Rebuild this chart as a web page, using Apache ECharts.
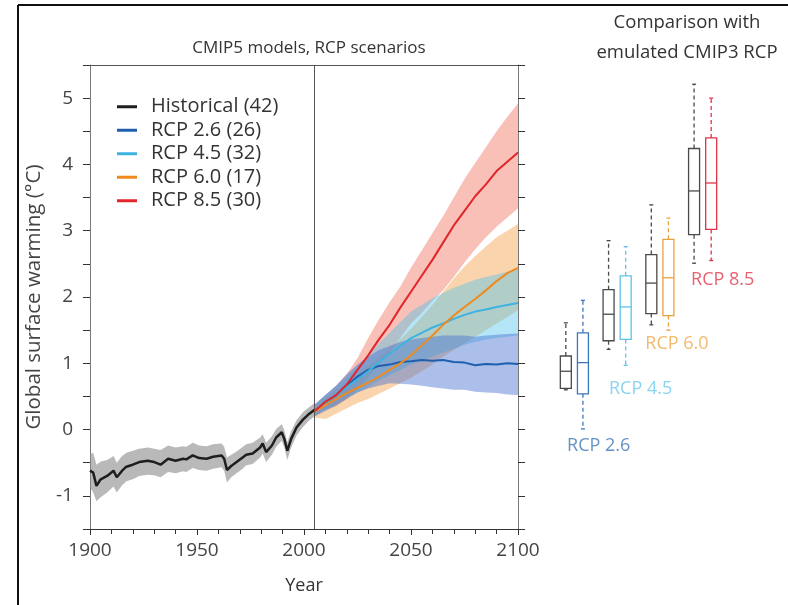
<!DOCTYPE html>
<html>
<head>
<meta charset="utf-8">
<script src="https://cdn.jsdelivr.net/npm/echarts@6/dist/echarts.min.js"></script>
<style>html,body{margin:0;padding:0;background:#fff}#c{width:788px;height:605px}</style>
</head>
<body>
<div id="c"></div>
<script>
// ---------- DATA ----------
const seriesNames = ['Historical (42)', 'RCP 2.6 (26)', 'RCP 4.5 (32)', 'RCP 6.0 (17)', 'RCP 8.5 (30)'];

const histYears = [1900, 1901.5, 1903, 1905, 1908, 1911, 1912.5, 1915, 1917, 1920, 1923, 1927, 1930, 1933, 1936.5, 1940, 1943.5, 1945, 1948, 1951, 1954.5, 1957.5, 1961.5, 1962.7, 1964, 1966, 1968.5, 1971, 1973, 1976, 1979.5, 1980.7, 1982.3, 1985, 1987, 1989.6, 1990.8, 1992.2, 1994, 1996.5, 1999.5, 2002.5, 2005];
const histMean  = [-0.62, -0.65, -0.85, -0.75, -0.70, -0.62, -0.72, -0.62, -0.56, -0.53, -0.49, -0.47, -0.49, -0.53, -0.44, -0.47, -0.44, -0.45, -0.39, -0.43, -0.44, -0.41, -0.39, -0.44, -0.61, -0.55, -0.49, -0.43, -0.38, -0.36, -0.27, -0.21, -0.34, -0.24, -0.12, -0.04, -0.14, -0.32, -0.14, 0.03, 0.15, 0.24, 0.30];
const histLow   = [-0.87, -0.95, -1.08, -1.02, -0.95, -0.86, -0.95, -0.84, -0.78, -0.75, -0.70, -0.68, -0.69, -0.72, -0.64, -0.66, -0.63, -0.64, -0.58, -0.61, -0.62, -0.59, -0.57, -0.62, -0.80, -0.72, -0.66, -0.60, -0.54, -0.52, -0.42, -0.36, -0.49, -0.38, -0.26, -0.17, -0.27, -0.46, -0.27, -0.09, 0.04, 0.14, 0.20];
const histHigh  = [-0.37, -0.35, -0.53, -0.48, -0.46, -0.40, -0.50, -0.40, -0.35, -0.32, -0.29, -0.27, -0.29, -0.31, -0.24, -0.27, -0.25, -0.26, -0.20, -0.24, -0.25, -0.22, -0.21, -0.26, -0.42, -0.38, -0.33, -0.27, -0.22, -0.20, -0.12, -0.07, -0.20, -0.10, 0.01, 0.08, -0.01, -0.19, -0.02, 0.14, 0.26, 0.34, 0.40];

const projYears = [2005, 2010, 2015, 2020, 2025, 2030, 2035, 2040, 2045, 2050, 2055, 2060, 2065, 2070, 2075, 2080, 2085, 2090, 2095, 2100];

const rcp26Mean = [0.28, 0.40, 0.52, 0.66, 0.80, 0.90, 0.96, 0.98, 1.02, 1.03, 1.05, 1.04, 1.05, 1.02, 1.01, 0.97, 0.99, 0.98, 1.00, 0.99];
const rcp26Low  = [0.20, 0.28, 0.36, 0.46, 0.56, 0.62, 0.66, 0.70, 0.69, 0.68, 0.66, 0.64, 0.62, 0.60, 0.60, 0.57, 0.56, 0.55, 0.53, 0.52];
const rcp26High = [0.38, 0.52, 0.66, 0.84, 0.98, 1.10, 1.20, 1.26, 1.32, 1.36, 1.38, 1.40, 1.42, 1.42, 1.42, 1.40, 1.42, 1.43, 1.44, 1.45];

const rcp45Mean = [0.28, 0.40, 0.52, 0.64, 0.76, 0.88, 1.02, 1.14, 1.26, 1.38, 1.46, 1.54, 1.60, 1.67, 1.73, 1.78, 1.81, 1.85, 1.88, 1.91];
const rcp45Low  = [0.20, 0.30, 0.38, 0.48, 0.56, 0.64, 0.74, 0.82, 0.90, 0.98, 1.04, 1.10, 1.16, 1.22, 1.28, 1.32, 1.36, 1.38, 1.40, 1.42];
const rcp45High = [0.38, 0.52, 0.66, 0.80, 0.96, 1.12, 1.30, 1.46, 1.62, 1.78, 1.88, 1.98, 2.06, 2.14, 2.20, 2.26, 2.30, 2.34, 2.38, 2.42];

const rcp60Mean = [0.27, 0.37, 0.46, 0.55, 0.63, 0.71, 0.80, 0.90, 1.00, 1.12, 1.27, 1.42, 1.58, 1.72, 1.85, 1.97, 2.10, 2.24, 2.36, 2.44];
const rcp60Low  = [0.18, 0.16, 0.24, 0.32, 0.40, 0.46, 0.54, 0.62, 0.70, 0.78, 0.88, 0.98, 1.10, 1.20, 1.30, 1.40, 1.50, 1.60, 1.70, 1.80];
const rcp60High = [0.36, 0.48, 0.60, 0.72, 0.84, 0.96, 1.08, 1.22, 1.36, 1.52, 1.70, 1.88, 2.08, 2.28, 2.46, 2.62, 2.76, 2.90, 3.00, 3.10];

const rcp85Mean = [0.28, 0.42, 0.52, 0.68, 0.90, 1.12, 1.36, 1.58, 1.84, 2.08, 2.32, 2.56, 2.82, 3.08, 3.30, 3.52, 3.70, 3.90, 4.04, 4.18];
const rcp85Low  = [0.20, 0.30, 0.36, 0.46, 0.62, 0.78, 0.98, 1.16, 1.38, 1.60, 1.76, 1.94, 2.10, 2.30, 2.52, 2.72, 2.90, 3.06, 3.20, 3.34];
const rcp85High = [0.38, 0.52, 0.66, 0.84, 1.08, 1.38, 1.66, 1.92, 2.16, 2.44, 2.70, 2.96, 3.22, 3.50, 3.78, 4.02, 4.26, 4.50, 4.72, 4.92];

// Box plots: [min, q1, median, q3, max]
const boxScenarios = ['RCP 2.6', 'RCP 4.5', 'RCP 6.0', 'RCP 8.5'];
const cmip3Boxes = [
  [0.60, 0.62, 0.88, 1.11, 1.61],
  [1.21, 1.34, 1.74, 2.11, 2.85],
  [1.58, 1.75, 2.21, 2.64, 3.39],
  [2.51, 2.94, 3.60, 4.24, 5.21]
];
const cmip5Boxes = [
  [0.01, 0.54, 1.01, 1.46, 1.95],
  [0.97, 1.36, 1.85, 2.32, 2.76],
  [1.50, 1.72, 2.29, 2.87, 3.19],
  [2.55, 3.02, 3.72, 4.40, 5.00]
];
// label anchors (slot, value) for the scenario names in the right panel
const boxLabelSlot = [0.57, 1.55, 2.40, 3.47];
const boxLabelValue = [-0.24, 0.62, 1.30, 2.26];

const xTicks = [1900, 1950, 2000, 2050, 2100];

// ---------- STYLE ----------
const FONT = 'Open Sans';
const lineColors = ['#1e1e1e', '#1f5fb0', '#3db3e3', '#ef8a1f', '#e2252b'];
const bandColors = ['#8a8a8a', '#4470d0', '#4cc3ec', '#f5a04a', '#ee6a50'];
const bandOpacity = [0.6, 0.45, 0.42, 0.45, 0.42];
const boxColors = ['#3c78b8', '#5cc3e8', '#eba040', '#e03348'];
const boxLabelColors = ['#3d77b5', '#6ec8ea', '#f0a848', '#e0384a'];
const cmip3Color = '#4a4a4a';

const pairs = (xs, ys) => xs.map((x, i) => [x, ys[i]]);

function band(xs, lo, hi, color, opacity) {
  return {
    type: 'custom', silent: true, z: 1,
    data: xs.map((x, i) => [x, lo[i], hi[i]]),
    encode: { x: 0, y: [1, 2] },
    renderItem: function (params, api) {
      if (params.dataIndex !== 0) return null;
      const pts = [];
      for (let i = 0; i < xs.length; i++) pts.push(api.coord([xs[i], hi[i]]));
      for (let i = xs.length - 1; i >= 0; i--) pts.push(api.coord([xs[i], lo[i]]));
      return { type: 'polygon', shape: { points: pts }, style: { fill: color, opacity: opacity } };
    }
  };
}

function meanLine(name, xs, ys, color, width) {
  return { type: 'line', name: name, data: pairs(xs, ys), symbol: 'none', z: 5,
    lineStyle: { color: color, width: width }, itemStyle: { color: color } };
}

function renderBox(colorFn) {
  return function (params, api) {
    const slot = api.value(0);
    const pMin = api.coord([slot, api.value(1)]);
    const pQ1 = api.coord([slot, api.value(2)]);
    const pMed = api.coord([slot, api.value(3)]);
    const pQ3 = api.coord([slot, api.value(4)]);
    const pMax = api.coord([slot, api.value(5)]);
    const cx = pMed[0];
    const hw = 5.5;
    const c = colorFn(params.dataIndex);
    const dashed = { stroke: c, lineWidth: 1.3, lineDash: [4, 3] };
    const solid = { stroke: c, lineWidth: 1.3, fill: null };
    return {
      type: 'group',
      children: [
        { type: 'line', shape: { x1: cx, y1: pQ3[1], x2: cx, y2: pMax[1] }, style: dashed },
        { type: 'line', shape: { x1: cx, y1: pQ1[1], x2: cx, y2: pMin[1] }, style: dashed },
        { type: 'line', shape: { x1: cx - 2, y1: pMax[1], x2: cx + 2, y2: pMax[1] }, style: solid },
        { type: 'line', shape: { x1: cx - 2, y1: pMin[1], x2: cx + 2, y2: pMin[1] }, style: solid },
        { type: 'rect', shape: { x: cx - hw, y: pQ3[1], width: hw * 2, height: pQ1[1] - pQ3[1] },
          style: { stroke: c, lineWidth: 1.3, fill: '#fff' } },
        { type: 'line', shape: { x1: cx - hw, y1: pMed[1], x2: cx + hw, y2: pMed[1] }, style: solid }
      ]
    };
  };
}

const cmip3Data = cmip3Boxes.map((b, i) => [i - 0.2].concat(b));
const cmip5Data = cmip5Boxes.map((b, i) => [i + 0.2].concat(b));

const series = [
  band(histYears, histLow, histHigh, bandColors[0], bandOpacity[0]),
  band(projYears, rcp85Low, rcp85High, bandColors[4], bandOpacity[4]),
  band(projYears, rcp60Low, rcp60High, bandColors[3], bandOpacity[3]),
  band(projYears, rcp45Low, rcp45High, bandColors[2], bandOpacity[2]),
  band(projYears, rcp26Low, rcp26High, bandColors[1], bandOpacity[1]),
  Object.assign(meanLine(seriesNames[0], histYears, histMean, lineColors[0], 2.5), {
    markLine: { silent: true, symbol: 'none', label: { show: false },
      lineStyle: { color: '#555', width: 1, type: 'solid' }, data: [{ xAxis: 2005 }] }
  }),
  meanLine(seriesNames[1], projYears, rcp26Mean, lineColors[1], 2),
  meanLine(seriesNames[2], projYears, rcp45Mean, lineColors[2], 2),
  meanLine(seriesNames[3], projYears, rcp60Mean, lineColors[3], 2),
  meanLine(seriesNames[4], projYears, rcp85Mean, lineColors[4], 2),
  { type: 'custom', name: 'cmip3', xAxisIndex: 2, yAxisIndex: 2, data: cmip3Data,
    renderItem: renderBox(() => cmip3Color), silent: true, z: 3 },
  { type: 'custom', name: 'cmip5', xAxisIndex: 2, yAxisIndex: 2, data: cmip5Data,
    renderItem: renderBox(i => boxColors[i]), silent: true, z: 3 },
  { type: 'scatter', name: 'boxlabels', xAxisIndex: 2, yAxisIndex: 2, symbolSize: 0, silent: true,
    data: boxScenarios.map((s, i) => ({ value: [boxLabelSlot[i], boxLabelValue[i]],
      label: { show: true, formatter: s, position: 'inside', color: boxLabelColors[i],
        fontSize: 18, fontFamily: FONT } })) }
];

const chart = echarts.init(document.getElementById('c'), null, { renderer: 'canvas' });
chart.setOption({
  animation: false,
  backgroundColor: '#fff',
  textStyle: { fontFamily: FONT },
  title: [
    { text: 'CMIP5 models, RCP scenarios', left: 304, top: 35, textAlign: 'center',
      textStyle: { fontSize: 17, fontWeight: 'normal', color: '#333', fontFamily: FONT } },
    { text: 'Comparison with\nemulated CMIP3 RCP', left: 682, top: 3, textAlign: 'center',
      textStyle: { fontSize: 18.5, fontWeight: 'normal', color: '#333', lineHeight: 30, fontFamily: FONT } }
  ],
  legend: {
    data: seriesNames, orient: 'vertical', left: 117, top: 95, padding: 0, icon: 'rect',
    itemWidth: 20, itemHeight: 3, itemGap: 0,
    textStyle: { fontSize: 20, color: '#333', lineHeight: 23.5, padding: [0, 0, 0, 9], fontFamily: FONT }
  },
  grid: [
    { left: 90, right: 270, top: 65, bottom: 76 },
    { left: 553, width: 171, top: 65, bottom: 76 }
  ],
  xAxis: [
    { type: 'value', gridIndex: 0, min: 1900, max: 2100, interval: 50, name: 'Year',
      nameLocation: 'middle', nameGap: 48,
      nameTextStyle: { fontSize: 18, color: '#333', fontFamily: FONT },
      axisLine: { show: true, onZero: false, lineStyle: { color: '#333', width: 1 } },
      axisTick: { show: true, length: 6, lineStyle: { color: '#333' } },
      minorTick: { show: true, splitNumber: 5, length: 5, lineStyle: { color: '#333' } },
      axisLabel: { fontSize: 19, color: '#444', margin: 12, fontFamily: FONT,
        formatter: v => (xTicks.indexOf(v) >= 0 ? String(v) : '') },
      splitLine: { show: false } },
    { type: 'value', gridIndex: 0, position: 'top', min: 1900, max: 2100,
      axisLine: { show: true, onZero: false, lineStyle: { color: '#555', width: 1 } },
      axisTick: { show: false }, axisLabel: { show: false }, splitLine: { show: false } },
    { type: 'value', gridIndex: 1, min: -0.5, max: 3.5, show: false }
  ],
  yAxis: [
    { type: 'value', gridIndex: 0, min: -1.5, max: 5.5, interval: 0.5,
      name: 'Global surface warming (°C)', nameLocation: 'middle', nameGap: 40,
      nameTextStyle: { fontSize: 20.5, color: '#444', fontFamily: FONT },
      axisLine: { show: true, onZero: false, lineStyle: { color: '#777', width: 1 } },
      axisTick: { show: true, length: 7, lineStyle: { color: '#333' } },
      axisLabel: { fontSize: 19, color: '#444', margin: 17, fontFamily: FONT,
        formatter: v => (Number.isInteger(v) ? String(v) : '') },
      splitLine: { show: false } },
    { type: 'value', gridIndex: 0, position: 'right', min: -1.5, max: 5.5, interval: 0.5,
      axisLine: { show: true, onZero: false, lineStyle: { color: '#777', width: 1 } },
      axisTick: { show: true, length: 7, lineStyle: { color: '#333' } },
      axisLabel: { show: false }, splitLine: { show: false } },
    { type: 'value', gridIndex: 1, min: -1.5, max: 5.5, show: false }
  ],
  graphic: [
    { type: 'line', shape: { x1: 18, y1: 5, x2: 788, y2: 5 }, style: { stroke: '#111', lineWidth: 2 } },
    { type: 'line', shape: { x1: 18, y1: 5, x2: 18, y2: 605 }, style: { stroke: '#111', lineWidth: 2 } }
  ],
  series: series
});
</script>
</body>
</html>
